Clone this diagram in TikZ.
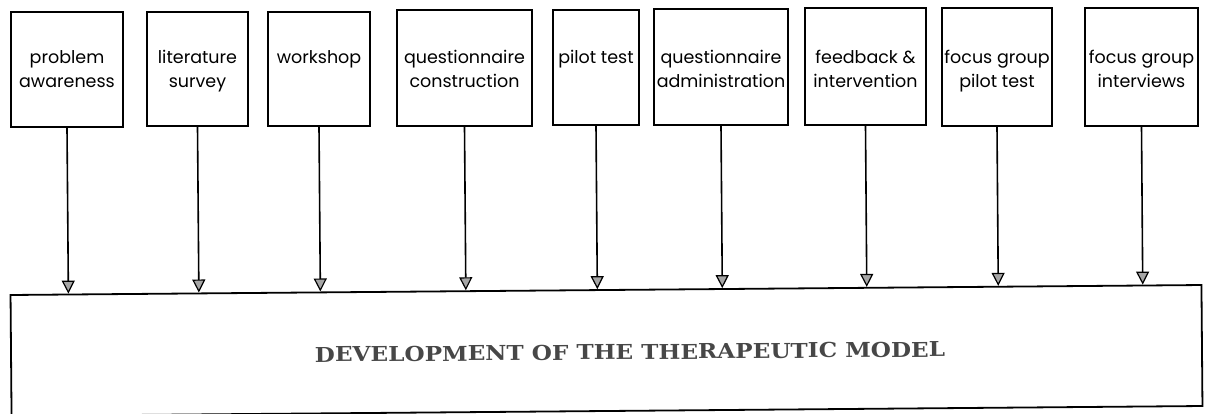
\documentclass[tikz,border=0pt]{standalone}
\usepackage{fontspec}
\setmainfont{Poppins}
\newfontfamily\headfont{DejaVu Serif}
\usetikzlibrary{arrows.meta,calc,fit}

\begin{document}
\begin{tikzpicture}[x=1pt,y=-1pt,
  stagebox/.style={draw=black, line width=1.8pt, inner sep=0pt},
  stagetext/.style={anchor=north, align=center, inner sep=0pt,
    font=\fontsize{17.5}{24}\selectfont},
  feed/.style={draw=black, line width=1.6pt,
    -{Triangle[width=13pt,length=13pt,fill=black!35,line width=1.2pt]}},
  devbox/.style={draw=black, line width=1.8pt, inner sep=0pt,
    minimum width=1191pt, minimum height=121pt, rotate=0.48},
  devtext/.style={inner sep=0pt, rotate=0.48, text=black!72,
    font=\headfont\bfseries\fontsize{20.5}{20.5}\selectfont},
]
\useasboundingbox (0,0) rectangle (1205,413);

% stage boxes along the top row
\node[stagebox, fit={(11,12) (123,127)}]   (s1) {};
\node[stagebox, fit={(147,12) (248,126)}]  (s2) {};
\node[stagebox, fit={(268,12) (370,126)}]  (s3) {};
\node[stagebox, fit={(397,10) (532,126)}]  (s4) {};
\node[stagebox, fit={(553,10) (639,125)}]  (s5) {};
\node[stagebox, fit={(654,9) (788,125)}]   (s6) {};
\node[stagebox, fit={(805,8) (926,125)}]   (s7) {};
\node[stagebox, fit={(942,8) (1052,126)}]  (s8) {};
\node[stagebox, fit={(1085,8) (1198,126)}] (s9) {};

% stage labels share one text row
\coordinate (textrow) at (0,50);
\node[stagetext] (t1) at (s1.north |- textrow) {problem\\awareness};
\node[stagetext] (t2) at (s2.north |- textrow) {literature\\survey};
\node[stagetext] (t3) at (s3.north |- textrow) {workshop};
\node[stagetext] (t4) at (s4.north |- textrow) {questionnaire\\construction};
\node[stagetext] (t5) at (s5.north |- textrow) {pilot test};
\node[stagetext] (t6) at (s6.north |- textrow) {questionnaire\\administration};
\node[stagetext] (t7) at (s7.north |- textrow) {feedback \&\\intervention};
\node[stagetext] (t8) at (s8.north |- textrow) {focus group\\pilot test};
\node[stagetext] (t9) at (s9.north |- textrow) {focus group\\interviews};

% the model box
\node[devbox] (dev) at (606.5,350.5) {};
\node[devtext] (devlabel) at (630,352)
  {\scalebox{1.13}[1]{DEVELOPMENT OF THE THERAPEUTIC MODEL}};

% every stage feeds into the model
\foreach \s in {s1,s2,s3,s4,s5,s6,s7,s8,s9}
  \draw[feed] (\s.south) -- ($(dev.north west)!(\s.south)!(dev.north east)$);
\end{tikzpicture}
\end{document}
